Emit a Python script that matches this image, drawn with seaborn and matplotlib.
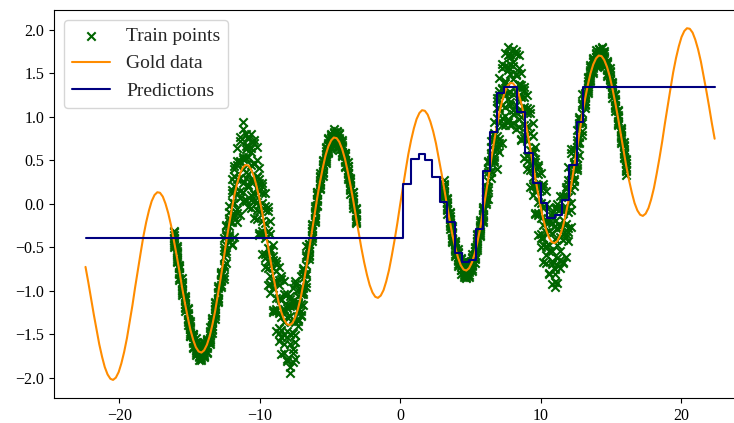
import matplotlib
matplotlib.use("Agg")
import matplotlib.pyplot as plt
import seaborn as sns
import pandas as pd

# ---------------- data ----------------
gold_x = [-22.40, -22.20, -22.01, -21.81, -21.61, -21.42, -21.22, -21.03, -20.83, -20.63,
          -20.44, -20.24, -20.04, -19.85, -19.65, -19.45, -19.26, -19.06, -18.87, -18.67,
          -18.47, -18.28, -18.08, -17.88, -17.69, -17.49, -17.29, -17.10, -16.90, -16.71,
          -16.51, -16.31,
          -16.12, -15.92, -15.72, -15.53, -15.33, -15.13, -14.94, -14.74, -14.55, -14.35,
          -14.15, -13.96, -13.76, -13.56, -13.37, -13.17, -12.98, -12.78, -12.58, -12.39,
          -12.19, -11.99, -11.80, -11.60, -11.40, -11.21, -11.01, -10.82, -10.62, -10.42,
          -10.23, -10.03, -9.83, -9.64, -9.44, -9.24, -9.05, -8.85, -8.66, -8.46,
          -8.26, -8.07, -7.87, -7.67, -7.48, -7.28, -7.08, -6.89, -6.69, -6.50,
          -6.30, -6.10, -5.91, -5.71, -5.51, -5.32, -5.12, -4.92, -4.73, -4.53,
          -4.34, -4.14, -3.94, -3.75, -3.55, -3.35, -3.16,
          -2.96, -2.77, -2.57, -2.37, -2.18, -1.98, -1.78, -1.59, -1.39, -1.19, -1.00,
          -0.80, -0.61, -0.41, -0.21, -0.02, 0.18, 0.38, 0.57, 0.77, 0.97,
          1.16, 1.36, 1.55, 1.75, 1.95, 2.14, 2.34, 2.54, 2.73, 2.93,
          3.13, 3.32, 3.52, 3.71, 3.91, 4.11, 4.30, 4.50, 4.70, 4.89,
          5.09, 5.29, 5.48, 5.68, 5.87, 6.07, 6.27, 6.46, 6.66, 6.86,
          7.05, 7.25, 7.45, 7.64, 7.84, 8.03, 8.23, 8.43, 8.62, 8.82,
          9.02, 9.21, 9.41, 9.61, 9.80, 10.00, 10.19, 10.39, 10.59, 10.78,
          10.98, 11.18, 11.37, 11.57, 11.76, 11.96, 12.16, 12.35, 12.55, 12.75,
          12.94, 13.14, 13.34, 13.53, 13.73, 13.93, 14.12, 14.32, 14.51, 14.71,
          14.91, 15.10, 15.30, 15.50, 15.69, 15.89, 16.08,
          16.28, 16.48, 16.67, 16.87, 17.07, 17.26, 17.46, 17.66, 17.85, 18.05,
          18.24, 18.44, 18.64, 18.83, 19.03, 19.23, 19.42, 19.62, 19.82, 20.01,
          20.21, 20.40, 20.60, 20.80, 20.99, 21.19, 21.39, 21.58, 21.78, 21.98, 22.17, 22.37]
gold_y = [-0.723, -0.900, -1.084, -1.270, -1.449, -1.613, -1.757, -1.874, -1.959, -2.009,
          -2.022, -1.996, -1.932, -1.833, -1.701, -1.541, -1.360, -1.164, -0.959, -0.754,
          -0.556, -0.371, -0.208, -0.072, 0.033, 0.103, 0.135, 0.129, 0.085, 0.005,
          -0.107, -0.247,
          -0.409, -0.585, -0.770, -0.956, -1.135, -1.299, -1.443, -1.560, -1.645, -1.695,
          -1.708, -1.682, -1.618, -1.518, -1.387, -1.227, -1.046, -0.850, -0.645, -0.440,
          -0.242, -0.057, 0.106, 0.243, 0.348, 0.417, 0.449, 0.443, 0.399, 0.319,
          0.207, 0.067, -0.094, -0.271, -0.456, -0.642, -0.820, -0.985, -1.129, -1.246,
          -1.331, -1.381, -1.393, -1.368, -1.304, -1.204, -1.073, -0.913, -0.732, -0.535,
          -0.331, -0.126, 0.073, 0.257, 0.420, 0.557, 0.662, 0.731, 0.764, 0.757,
          0.713, 0.633, 0.521, 0.381, 0.220, 0.043, -0.142,
          -0.328, -0.506, -0.671, -0.815, -0.931, -1.017, -1.067, -1.079, -1.053, -0.990, -0.890,
          -0.758, -0.599, -0.418, -0.221, -0.017, 0.189, 0.387, 0.571, 0.734, 0.871,
          0.976, 1.046, 1.078, 1.071, 1.027, 0.947, 0.835, 0.696, 0.534, 0.357,
          0.172, -0.013, -0.192, -0.357, -0.500, -0.617, -0.703, -0.753, -0.765, -0.739,
          -0.675, -0.576, -0.444, -0.285, -0.104, 0.093, 0.298, 0.503, 0.701, 0.885,
          1.049, 1.185, 1.290, 1.360, 1.392, 1.386, 1.341, 1.262, 1.150, 1.010,
          0.848, 0.671, 0.486, 0.301, 0.122, -0.043, -0.186, -0.303, -0.388, -0.438,
          -0.451, -0.425, -0.361, -0.262, -0.130, 0.029, 0.211, 0.407, 0.612, 0.817,
          1.015, 1.199, 1.363, 1.499, 1.604, 1.674, 1.706, 1.700, 1.656, 1.576,
          1.464, 1.324, 1.162, 0.985, 0.801, 0.615, 0.436,
          0.272, 0.128, 0.011, -0.074, -0.124, -0.137, -0.111, -0.047, 0.052, 0.184,
          0.344, 0.525, 0.721, 0.926, 1.131, 1.329, 1.514, 1.677, 1.813, 1.918,
          1.988, 2.020, 2.014, 1.970, 1.890, 1.778, 1.638, 1.476, 1.300, 1.115, 0.929, 0.750]

pred_x = [-22.40, 0.21, 0.76, 1.33, 1.79, 2.26, 2.83, 3.32, 3.89, 4.37, 4.89, 5.39, 5.89,
          6.38, 6.90, 7.38, 8.34, 8.88, 9.47, 9.99, 10.46, 10.98, 11.51, 12.04, 12.56,
          13.00, 22.40]
pred_y = [-0.394, 0.233, 0.517, 0.578, 0.502, 0.307, 0.023, -0.203, -0.567, -0.663,
          -0.644, -0.291, 0.383, 0.831, 1.272, 1.341, 1.061, 0.583, 0.238, 0.008,
          -0.164, -0.126, 0.046, 0.452, 0.946, 1.339, 1.339]

train_x = [-16.12, -15.92, -15.72, -15.53, -15.33, -15.13, -14.94, -14.74, -14.55, -14.35,
           -14.15, -13.96, -13.76, -13.56, -13.37, -13.17, -12.98, -12.78, -12.58, -12.39,
           -12.19, -11.99, -11.80, -11.60, -11.40, -11.21, -11.01, -10.82, -10.62, -10.42,
           -10.23, -10.03, -9.83, -9.64, -9.44, -9.24, -9.05, -8.85, -8.66, -8.46,
           -8.26, -8.07, -7.87, -7.67, -7.48, -7.28, -7.08, -6.89, -6.69, -6.50,
           -6.30, -6.10, -5.91, -5.71, -5.51, -5.32, -5.12, -4.92, -4.73, -4.53,
           -4.34, -4.14, -3.94, -3.75, -3.55, -3.35, -3.16,
           3.13, 3.32, 3.52, 3.71, 3.91, 4.11, 4.30, 4.50, 4.70, 4.89,
           5.09, 5.29, 5.48, 5.68, 5.87, 6.07, 6.27, 6.46, 6.66, 6.86,
           7.05, 7.25, 7.45, 7.64, 7.84, 8.03, 8.23, 8.43, 8.62, 8.82,
           9.02, 9.21, 9.41, 9.61, 9.80, 10.00, 10.19, 10.39, 10.59, 10.78,
           10.98, 11.18, 11.37, 11.57, 11.76, 11.96, 12.16, 12.35, 12.55, 12.75,
           12.94, 13.14, 13.34, 13.53, 13.73, 13.93, 14.12, 14.32, 14.51, 14.71,
           14.91, 15.10, 15.30, 15.50, 15.69, 15.89, 16.08]
train_y_a = [-0.389, -0.655, -0.730, -0.896, -1.185, -1.279, -1.513, -1.520, -1.585, -1.745,
             -1.688, -1.752, -1.578, -1.458, -1.437, -1.207, -1.116, -0.810, -0.525, -0.540,
             -0.192, -0.457, 0.436, 0.493, 0.148, 0.517, 0.049, 0.773, 0.649, 0.119,
             0.307, -0.333, 0.236, -0.021, -0.656, -0.542, -1.220, -0.655, -0.879, -1.446,
             -1.231, -1.781, -1.063, -1.118, -1.504, -1.154, -1.273, -0.753, -0.612, -0.585,
             -0.311, -0.196, 0.113, 0.317, 0.370, 0.577, 0.592, 0.771, 0.824, 0.707,
             0.733, 0.563, 0.561, 0.441, 0.170, 0.063, -0.212,
             0.232, -0.063, -0.172, -0.427, -0.460, -0.557, -0.753, -0.733, -0.835, -0.699,
             -0.615, -0.626, -0.424, -0.355, -0.064, 0.153, 0.198, 0.553, 0.501, 1.215,
             1.299, 0.985, 1.390, 0.960, 1.722, 1.636, 1.141, 1.362, 0.750, 1.340,
             1.098, 0.471, 0.586, -0.099, 0.452, 0.207, -0.386, -0.203, -0.788, -0.108,
             -0.201, -0.625, -0.261, -0.662, 0.200, 0.279, 0.011, 0.457, 0.412, 0.977,
             1.135, 1.149, 1.383, 1.429, 1.644, 1.734, 1.656, 1.720, 1.586, 1.616,
             1.524, 1.274, 1.182, 0.915, 0.841, 0.675, 0.386]
train_y_b = [-0.469, -0.545, -0.790, -0.996, -1.065, -1.359, -1.403, -1.580, -1.685, -1.625,
             -1.768, -1.642, -1.638, -1.558, -1.317, -1.287, -1.006, -0.870, -0.825, -0.250,
             -0.382, 0.123, 0.006, -0.107, 0.728, 0.137, 0.629, 0.343, 0.049, 0.699,
             -0.073, 0.247, -0.194, -0.621, -0.076, -0.922, -0.640, -1.085, -1.479, -0.866,
             -1.611, -1.201, -1.493, -1.718, -0.924, -1.344, -0.983, -0.963, -0.912, -0.465,
             -0.391, -0.086, 0.053, 0.217, 0.490, 0.497, 0.702, 0.711, 0.724, 0.827,
             0.653, 0.673, 0.501, 0.341, 0.290, -0.017, -0.102,
             0.132, 0.057, -0.252, -0.317, -0.520, -0.657, -0.633, -0.813, -0.725, -0.759,
             -0.715, -0.506, -0.504, -0.245, -0.124, 0.053, 0.488, 0.363, 0.791, 0.785,
             0.699, 1.565, 1.010, 1.540, 1.292, 1.036, 1.721, 0.982, 1.330, 0.910,
             0.498, 1.051, 0.206, 0.481, 0.022, -0.393, 0.194, -0.583, -0.208, -0.538,
             -0.801, -0.045, -0.641, -0.082, -0.230, -0.321, 0.591, 0.267, 0.702, 0.767,
             0.835, 1.269, 1.303, 1.539, 1.584, 1.634, 1.776, 1.640, 1.696, 1.556,
             1.424, 1.394, 1.102, 1.025, 0.781, 0.575, 0.506]
train_y_c = [-0.359, -0.505, -0.850, -0.946, -1.145, -1.249, -1.363, -1.640, -1.635, -1.705,
             -1.658, -1.602, -1.698, -1.508, -1.397, -1.177, -0.966, -0.930, -0.615, -0.470,
             -0.092, 0.023, -0.144, 0.293, 0.298, 0.940, 0.529, 0.193, 0.449, 0.269,
             0.507, 0.147, -0.344, -0.221, -0.506, -0.342, -0.740, -1.235, -1.079, -1.296,
             -1.031, -1.301, -1.940, -1.318, -1.354, -1.054, -1.033, -1.033, -0.702, -0.545,
             -0.281, -0.046, -0.007, 0.267, 0.410, 0.607, 0.742, 0.651, 0.774, 0.747,
             0.763, 0.713, 0.441, 0.391, 0.210, 0.093, -0.062,
             0.182, -0.023, -0.142, -0.277, -0.580, -0.607, -0.713, -0.703, -0.685, -0.819,
             -0.665, -0.586, -0.394, -0.205, -0.184, 0.103, 0.268, 0.653, 0.741, 0.635,
             1.099, 1.135, 1.590, 1.810, 1.142, 1.436, 1.291, 1.562, 1.230, 0.760,
             0.898, 0.621, 0.786, 0.381, -0.128, 0.007, -0.236, -0.003, -0.308, -0.688,
             -0.401, -0.475, -0.061, -0.182, -0.380, 0.079, 0.161, 0.557, 0.652, 0.697,
             1.045, 1.189, 1.413, 1.579, 1.524, 1.684, 1.696, 1.750, 1.736, 1.496,
             1.474, 1.314, 1.212, 1.065, 0.721, 0.625, 0.426]
train_y_d = [-0.429, -0.615, -0.710, -1.026, -1.105, -1.319, -1.473, -1.500, -1.715, -1.665,
             -1.728, -1.712, -1.558, -1.588, -1.357, -1.247, -1.076, -0.790, -0.705, -0.370,
             -0.252, -0.207, 0.326, 0.123, 0.488, 0.397, 0.299, 0.663, 0.279, 0.459,
             0.187, -0.083, 0.126, -0.391, -0.316, -0.662, -0.970, -0.765, -1.249, -1.106,
             -1.351, -1.531, -1.173, -1.488, -1.164, -1.214, -1.153, -0.803, -0.792, -0.505,
             -0.351, -0.156, 0.133, 0.187, 0.450, 0.537, 0.632, 0.791, 0.694, 0.787,
             0.693, 0.603, 0.581, 0.311, 0.250, 0.023, -0.172,
             0.102, 0.017, -0.212, -0.387, -0.440, -0.687, -0.673, -0.773, -0.795, -0.679,
             -0.745, -0.546, -0.464, -0.315, -0.044, 0.023, 0.368, 0.493, 0.621, 1.105,
             0.929, 1.325, 1.270, 1.210, 1.612, 1.266, 1.481, 1.242, 1.000, 1.230,
             0.728, 0.811, 0.466, 0.151, 0.342, -0.163, -0.046, -0.323, -0.538, -0.218,
             -0.950, -0.285, -0.381, -0.412, 0.090, -0.091, 0.351, 0.397, 0.532, 0.927,
             0.955, 1.229, 1.343, 1.469, 1.664, 1.604, 1.736, 1.680, 1.626, 1.636,
             1.394, 1.354, 1.142, 0.955, 0.861, 0.545, 0.466]
train_y_e = [-0.449, -0.485, -0.870, -1.046, -1.055, -1.339, -1.343, -1.660, -1.735, -1.615,
             -1.748, -1.582, -1.718, -1.608, -1.307, -1.267, -0.946, -0.950, -0.865, -0.240,
             -0.362, 0.293, -0.374, -0.057, 0.768, 0.237, 0.799, -0.037, 0.099, 0.739,
             0.027, 0.417, -0.574, -0.571, -0.036, -0.822, -0.470, -1.465, -1.429, -0.826,
             -1.511, -1.031, -1.873, -1.668, -0.884, -1.324, -0.833, -1.163, -0.952, -0.455,
             -0.371, -0.026, -0.027, 0.167, 0.500, 0.517, 0.762, 0.631, 0.674, 0.837,
             0.673, 0.733, 0.421, 0.291, 0.300, 0.003, -0.042,
             0.082, 0.067, -0.232, -0.257, -0.600, -0.707, -0.623, -0.793, -0.665, -0.839,
             -0.765, -0.496, -0.484, -0.185, -0.204, 0.003, 0.498, 0.383, 0.941, 0.405,
             0.749, 1.605, 1.110, 1.710, 0.912, 1.086, 1.761, 1.082, 1.500, 0.530,
             0.548, 1.091, 0.306, 0.651, -0.358, -0.343, 0.234, -0.483, -0.038, -0.918,
             -0.751, -0.005, -0.541, 0.088, -0.610, -0.271, 0.631, 0.287, 0.852, 0.567,
             0.795, 1.279, 1.323, 1.599, 1.504, 1.584, 1.786, 1.660, 1.756, 1.476,
             1.374, 1.404, 1.122, 1.085, 0.701, 0.525, 0.516]
train_y_f = [-0.319, -0.665, -0.700, -0.856, -1.235, -1.209, -1.523, -1.490, -1.545, -1.795,
             -1.618, -1.762, -1.548, -1.418, -1.487, -1.137, -1.126, -0.780, -0.495, -0.680,
             -0.022, -0.477, 0.406, 0.443, 0.068, 0.867, 0.029, 0.743, 0.599, 0.039,
             0.657, -0.353, 0.206, -0.071, -0.736, -0.192, -1.240, -0.685, -0.929, -1.526,
             -0.881, -1.801, -1.093, -1.168, -1.584, -0.984, -1.233, -0.733, -0.582, -0.635,
             -0.241, -0.206, 0.143, 0.357, 0.320, 0.647, 0.582, 0.801, 0.864, 0.657,
             0.803, 0.553, 0.591, 0.481, 0.120, 0.133, -0.222,
             0.272, -0.113, -0.102, -0.437, -0.430, -0.517, -0.803, -0.663, -0.845, -0.669,
             -0.575, -0.676, -0.354, -0.365, -0.034, 0.193, 0.058, 0.723, 0.541, 1.185,
             1.249, 0.905, 1.740, 0.940, 1.692, 1.586, 1.061, 1.712, 0.730, 1.310,
             1.048, 0.391, 0.936, -0.119, 0.422, 0.157, -0.466, 0.147, -0.808, -0.138,
             -0.251, -0.705, 0.089, -0.682, 0.170, 0.229, -0.069, 0.627, 0.452, 0.997,
             1.165, 1.099, 1.453, 1.419, 1.674, 1.774, 1.606, 1.790, 1.576, 1.646,
             1.564, 1.224, 1.252, 0.905, 0.871, 0.715, 0.336]
train_y_g = [-0.499, -0.565, -0.740, -0.986, -1.095, -1.389, -1.423, -1.530, -1.675, -1.655,
             -1.798, -1.662, -1.588, -1.548, -1.347, -1.317, -1.026, -0.820, -0.725, -0.340,
             -0.442, 0.163, 0.206, -0.207, 0.498, 0.037, 0.669, 0.543, -0.051, 0.469,
             -0.173, 0.287, 0.006, -0.721, -0.306, -1.022, -0.600, -0.885, -1.579, -1.096,
             -1.711, -1.161, -1.293, -1.818, -1.154, -1.404, -0.953, -0.853, -0.812, -0.495,
             -0.421, -0.106, 0.103, 0.227, 0.460, 0.467, 0.682, 0.761, 0.734, 0.797,
             0.623, 0.653, 0.551, 0.351, 0.260, -0.047, -0.122,
             0.142, 0.027, -0.282, -0.337, -0.470, -0.647, -0.663, -0.843, -0.745, -0.709,
             -0.705, -0.536, -0.534, -0.265, -0.074, 0.063, 0.398, 0.303, 0.821, 0.985,
             0.599, 1.335, 0.910, 1.580, 1.492, 0.936, 1.491, 0.882, 1.370, 1.110,
             0.398, 0.821, 0.106, 0.521, 0.222, -0.493, -0.036, -0.683, -0.168, -0.338,
             -0.901, -0.275, -0.741, -0.042, -0.030, -0.421, 0.361, 0.207, 0.732, 0.877,
             0.935, 1.239, 1.273, 1.519, 1.634, 1.644, 1.746, 1.610, 1.676, 1.606,
             1.434, 1.364, 1.072, 1.005, 0.831, 0.585, 0.476]
train_y_h = [-0.309, -0.635, -0.810, -0.906, -1.195, -1.199, -1.493, -1.600, -1.595, -1.755,
             -1.608, -1.732, -1.658, -1.468, -1.447, -1.127, -1.096, -0.890, -0.395, -0.580,
             -0.162, -0.137, -0.114, 0.643, -0.132, 0.537, 0.369, 0.223, 0.799, -0.161,
             0.327, -0.013, -0.314, 0.129, -0.936, -0.522, -0.900, -1.205, -0.729, -1.726,
             -1.211, -1.461, -1.613, -0.968, -1.784, -1.124, -1.293, -1.013, -0.482, -0.595,
             -0.231, -0.176, 0.033, 0.307, 0.360, 0.657, 0.612, 0.691, 0.814, 0.697,
             0.813, 0.583, 0.481, 0.431, 0.160, 0.143, -0.192,
             0.222, -0.073, -0.092, -0.407, -0.540, -0.567, -0.763, -0.653, -0.815, -0.779,
             -0.625, -0.636, -0.344, -0.335, -0.144, 0.143, 0.158, 0.583, 0.481, 0.665,
             1.449, 0.705, 1.410, 1.280, 1.172, 1.786, 0.861, 1.382, 1.070, 0.790,
             1.248, 0.191, 0.606, 0.221, -0.098, 0.357, -0.666, -0.183, -0.468, -0.658,
             -0.051, -0.905, -0.241, -0.342, -0.350, 0.429, -0.269, 0.487, 0.392, 0.717,
             1.265, 1.139, 1.463, 1.449, 1.564, 1.724, 1.646, 1.800, 1.606, 1.536,
             1.514, 1.264, 1.262, 0.935, 0.761, 0.665, 0.376]

# ---------------- frames ----------------
train_sets = [train_y_a, train_y_b, train_y_c, train_y_d,
              train_y_e, train_y_f, train_y_g, train_y_h]
train_df = pd.DataFrame({
    "x": [v for _ in train_sets for v in train_x],
    "y": [v for ys in train_sets for v in ys],
})
gold_df = pd.DataFrame({"x": gold_x, "y": gold_y})
pred_df = pd.DataFrame({"x": pred_x, "y": pred_y})

# ---------------- style ----------------
sns.set_style("ticks")
plt.rcParams["font.family"] = ["Liberation Serif", "DejaVu Serif"]
plt.rcParams["axes.edgecolor"] = "black"
plt.rcParams["axes.linewidth"] = 0.8
plt.rcParams["xtick.color"] = "black"
plt.rcParams["ytick.color"] = "black"

fig = plt.figure(figsize=(7.34, 4.23), dpi=100)
ax = fig.add_axes([0.0736, 0.0591, 0.9435, 0.9173])

sns.scatterplot(data=train_df, x="x", y="y", marker="x", color="darkgreen",
                s=36, linewidth=1.5, label="Train points", ax=ax, zorder=2)
sns.lineplot(data=gold_df, x="x", y="y", color="darkorange", linewidth=1.5,
             estimator=None, sort=False, label="Gold data", ax=ax, zorder=3)
sns.lineplot(data=pred_df, x="x", y="y", color="navy", linewidth=1.5,
             drawstyle="steps-post", estimator=None, sort=False,
             label="Predictions", ax=ax, zorder=4)

ax.set_xlim(-24.64, 24.64)
ax.set_ylim(-2.23, 2.23)
ax.set_xticks([-20, -10, 0, 10, 20])
ax.set_yticks([-2.0, -1.5, -1.0, -0.5, 0.0, 0.5, 1.0, 1.5, 2.0])
ax.set_yticklabels(["\u22122.0", "\u22121.5", "\u22121.0", "\u22120.5", "0.0",
                    "0.5", "1.0", "1.5", "2.0"])
ax.set_xticklabels(["\u221220", "\u221210", "0", "10", "20"])
ax.tick_params(labelsize=11.5, length=3.5, width=0.8, direction="out")
ax.set_xlabel("")
ax.set_ylabel("")
for s in ax.spines.values():
    s.set_visible(True)

ax.legend(loc="upper left", fontsize=14, frameon=True)

fig.savefig("out.png", dpi=100)
